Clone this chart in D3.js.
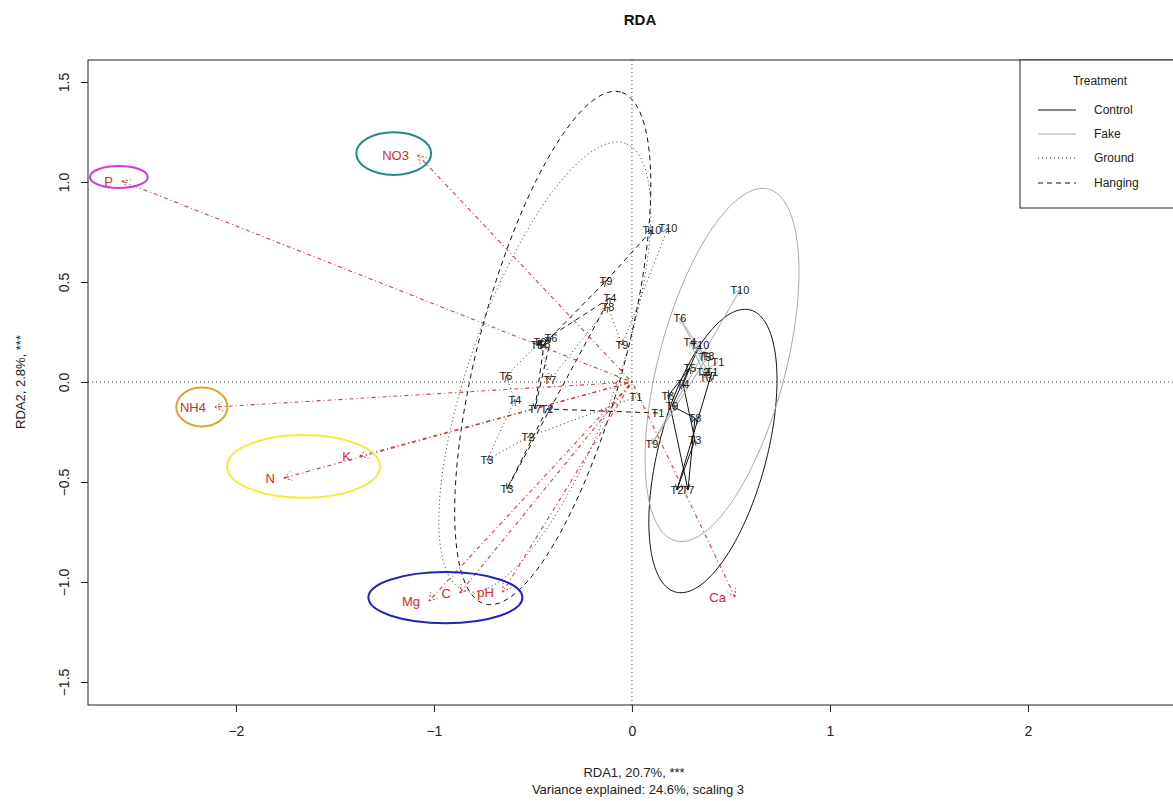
<!DOCTYPE html>
<html>
<head>
<meta charset="utf-8">
<script src="https://cdn.jsdelivr.net/npm/d3@7"></script>
<style>
  body { margin: 0; background: #fff; }
  svg { font-family: "Liberation Sans", Arial, sans-serif; }
</style>
</head>
<body>
<svg id="chart" width="1173" height="801"></svg>
<script>
// ---- site scores, one pair of arrays per treatment (sampling times T1..T10) ----
const timeLabels = ["T1","T2","T3","T4","T5","T6","T7","T8","T9","T10"];

const controlX = [0.404, 0.227, 0.318, 0.258, 0.293, 0.182, 0.283, 0.318, 0.202, 0.343];
const controlY = [0.050, -0.540, -0.290, -0.010, 0.070, -0.070, -0.540, -0.180, -0.120, 0.185];

const fakeX = [0.434, 0.359, 0.374, 0.293, 0.369, 0.242, 0.394, 0.384, 0.101, 0.545];
const fakeY = [0.100, 0.050, 0.020, 0.200, 0.125, 0.320, 0.030, 0.130, -0.310, 0.460];

const groundX = [0.020, -0.525, -0.732, -0.591, -0.636, -0.465, -0.414, -0.121, -0.050, 0.182];
const groundY = [-0.075, -0.275, -0.390, -0.090, 0.030, 0.200, 0.010, 0.375, 0.185, 0.770];

const hangingX = [0.131, -0.429, -0.631, -0.111, -0.480, -0.409, -0.490, -0.444, -0.131, 0.101];
const hangingY = [-0.155, -0.135, -0.535, 0.420, 0.185, 0.220, -0.135, 0.190, 0.505, 0.760];

// ---- dispersion ellipses per treatment: centre, semi-axes, rotation (degrees) ----
const treatments   = ["Control", "Fake", "Ground", "Hanging"];
const ellipseCx    = [0.409, 0.455, -0.440, -0.400];
const ellipseCy    = [-0.345, 0.085, 0.075, 0.170];
const ellipseMajor = [0.730, 0.910, 1.190, 1.325];
const ellipseMinor = [0.272, 0.320, 0.370, 0.370];
const ellipseAngle = [75, 75, 70, 75];

// ---- environmental biplot scores ----
const envNames = ["P", "NO3", "NH4", "K", "N", "Mg", "C", "pH", "Ca"];
const envX = [-2.576, -1.081, -2.106, -1.374, -1.758, -1.025, -0.869, -0.652, 0.520];
const envY = [1.005, 1.135, -0.125, -0.370, -0.480, -1.095, -1.055, -1.050, -1.075];

// ---- highlighted variable groups ----
const markGroups = ["P", "NO3", "NH4", "N-K", "Mg-C-pH"];
const markCx = [-2.591, -1.203, -2.172, -1.659, -0.942];
const markCy = [1.025, 1.142, -0.125, -0.422, -1.078];
const markRx = [0.146, 0.189, 0.129, 0.386, 0.389];
const markRy = [0.055, 0.107, 0.097, 0.157, 0.128];

// ---- axes ----
const xTicks = [-2, -1, 0, 1, 2];
const yTicks = [-1.5, -1.0, -0.5, 0.0, 0.5, 1.0, 1.5];

// ---------------------------------------------------------------
(function draw() {
const styles = {
  Control: { stroke: "#111", dash: null },
  Fake:    { stroke: "#a8a8a8", dash: null },
  Ground:  { stroke: "#333", dash: "1,3" },
  Hanging: { stroke: "#111", dash: "5,4" }
};
const markColors = ["#d23cd2", "#238a86", "#e2a128", "#eeee3c", "#2424b4"];
const envColor = "#d22b2b";

const svg = d3.select("#chart");
const pL = 88, pR = 1185, pT = 60, pB = 705;

const x = d3.scaleLinear().domain([-2.747, 2.793]).range([pL, pR]);
const y = d3.scaleLinear().domain([-1.615, 1.61]).range([pB, pT]);

svg.append("defs").append("clipPath").attr("id", "plotclip")
  .append("rect").attr("x", pL).attr("y", pT)
  .attr("width", pR - pL).attr("height", pB - pT);

const plot = svg.append("g").attr("clip-path", "url(#plotclip)");

// zero reference lines
plot.append("line").attr("x1", x(0)).attr("x2", x(0)).attr("y1", pT).attr("y2", pB)
  .attr("stroke", "#444").attr("stroke-dasharray", "1,3").attr("stroke-width", 1);
plot.append("line").attr("x1", pL).attr("x2", pR).attr("y1", y(0)).attr("y2", y(0))
  .attr("stroke", "#444").attr("stroke-dasharray", "1,3").attr("stroke-width", 1);

// treatment ellipses
function ellipsePoints(cx, cy, a, b, deg) {
  const th = deg * Math.PI / 180;
  return d3.range(0, 361, 2).map(t => {
    const r = t * Math.PI / 180;
    const dx = a * Math.cos(r), dy = b * Math.sin(r);
    return [cx + dx * Math.cos(th) - dy * Math.sin(th), cy + dx * Math.sin(th) + dy * Math.cos(th)];
  });
}
const lineGen = d3.line().x(d => x(d[0])).y(d => y(d[1]));

treatments.forEach((t, i) => {
  const st = styles[t];
  plot.append("path")
    .attr("d", lineGen(ellipsePoints(ellipseCx[i], ellipseCy[i], ellipseMajor[i], ellipseMinor[i], ellipseAngle[i])))
    .attr("fill", "none").attr("stroke", st.stroke).attr("stroke-width", 1)
    .attr("stroke-dasharray", st.dash);
});

// trajectories T1 -> T10 per treatment
const siteSets = {
  Control: [controlX, controlY],
  Fake: [fakeX, fakeY],
  Ground: [groundX, groundY],
  Hanging: [hangingX, hangingY]
};

function arrowHead(g, x0, y0, x1, y1, len, color, dash, width) {
  const ang = Math.atan2(y1 - y0, x1 - x0);
  const spread = Math.PI / 6;
  [ang + Math.PI - spread, ang + Math.PI + spread].forEach(a => {
    g.append("line").attr("x1", x1).attr("y1", y1)
      .attr("x2", x1 + len * Math.cos(a)).attr("y2", y1 + len * Math.sin(a))
      .attr("stroke", color).attr("stroke-width", width)
      .attr("stroke-dasharray", dash);
  });
}

treatments.forEach(t => {
  const [xs, ys] = siteSets[t];
  const st = styles[t];
  const pts = xs.map((v, i) => [v, ys[i]]);
  for (let i = 0; i < pts.length - 1; i++) {
    const x0 = x(pts[i][0]), y0 = y(pts[i][1]), x1 = x(pts[i + 1][0]), y1 = y(pts[i + 1][1]);
    plot.append("line").attr("x1", x0).attr("y1", y0).attr("x2", x1).attr("y2", y1)
      .attr("stroke", st.stroke).attr("stroke-width", 1).attr("stroke-dasharray", st.dash);
    arrowHead(plot, x0, y0, x1, y1, 6, st.stroke, null, 0.8);
  }
});

// environmental arrows
envNames.forEach((n, i) => {
  const x0 = x(0), y0 = y(0), x1 = x(envX[i]), y1 = y(envY[i]);
  plot.append("line").attr("x1", x0).attr("y1", y0).attr("x2", x1).attr("y2", y1)
    .attr("stroke", envColor).attr("stroke-width", 1.1).attr("stroke-dasharray", "1,3,4,3")
    .attr("opacity", 0.9);
  arrowHead(plot, x0, y0, x1, y1, 9, envColor, "2,2", 1);
  plot.append("text").attr("x", x1 - 9).attr("y", y1).attr("dy", "0.36em")
    .attr("text-anchor", "end").attr("font-size", 13).attr("fill", envColor).text(n);
});

// highlighted variable groups
markGroups.forEach((m, i) => {
  plot.append("ellipse")
    .attr("cx", x(markCx[i])).attr("cy", y(markCy[i]))
    .attr("rx", x(markRx[i]) - x(0)).attr("ry", y(0) - y(markRy[i]))
    .attr("fill", "none").attr("stroke", markColors[i]).attr("stroke-width", 2);
});

// site labels
treatments.forEach(t => {
  const [xs, ys] = siteSets[t];
  xs.forEach((v, i) => {
    plot.append("text").attr("x", x(v)).attr("y", y(ys[i])).attr("dy", "0.35em")
      .attr("text-anchor", "middle").attr("font-size", 11).attr("fill", "#1a1a1a")
      .text(timeLabels[i]);
  });
});

// frame
svg.append("rect").attr("x", pL).attr("y", pT).attr("width", pR - pL).attr("height", pB - pT)
  .attr("fill", "none").attr("stroke", "#222").attr("stroke-width", 1);

// x axis
const xAxis = svg.append("g").attr("transform", `translate(0,${pB})`)
  .call(d3.axisBottom(x).tickValues(xTicks).tickSize(7).tickPadding(14).tickFormat(d3.format("d")));
xAxis.select(".domain").remove();
xAxis.selectAll("text").attr("font-size", 14).attr("fill", "#222")
  .attr("font-family", "Liberation Sans, Arial, sans-serif");
xAxis.selectAll("line").attr("stroke", "#222");

// y axis (labels rotated, parallel to the axis)
const yAxis = svg.append("g").attr("transform", `translate(${pL},0)`)
  .call(d3.axisLeft(y).tickValues(yTicks).tickSize(7).tickFormat(d3.format(".1f")));
yAxis.select(".domain").remove();
yAxis.selectAll("line").attr("stroke", "#222");
yAxis.selectAll(".tick text")
  .attr("font-size", 14).attr("fill", "#222")
  .attr("font-family", "Liberation Sans, Arial, sans-serif")
  .attr("x", null).attr("dy", null)
  .attr("text-anchor", "middle")
  .attr("transform", "translate(-24,0) rotate(-90)")
  .attr("dy", "0.36em");

// titles
svg.append("text").attr("x", 640).attr("y", 20).attr("dy", "0.35em").attr("text-anchor", "middle")
  .attr("font-size", 15).attr("font-weight", "bold").attr("fill", "#111").text("RDA");
svg.append("text").attr("x", 634).attr("y", 772).attr("dy", "0.35em").attr("text-anchor", "middle")
  .attr("font-size", 13).attr("fill", "#222").text("RDA1, 20.7%, ***");
svg.append("text").attr("x", 638).attr("y", 789).attr("dy", "0.35em").attr("text-anchor", "middle")
  .attr("font-size", 13).attr("fill", "#222").text("Variance explained: 24.6%, scaling 3");
svg.append("text").attr("transform", "translate(20,382) rotate(-90)").attr("dy", "0.35em")
  .attr("text-anchor", "middle").attr("font-size", 13).attr("fill", "#222").text("RDA2, 2.8%, ***");

// legend
const lg = svg.append("g");
lg.append("rect").attr("x", 1020).attr("y", 60).attr("width", 175).attr("height", 148)
  .attr("fill", "#fff").attr("stroke", "#222");
lg.append("text").attr("x", 1100).attr("y", 81).attr("dy", "0.35em").attr("text-anchor", "middle")
  .attr("font-size", 12).attr("fill", "#222").text("Treatment");
const legY = [110, 134, 158, 183];
treatments.forEach((t, i) => {
  const st = styles[t];
  lg.append("line").attr("x1", 1038).attr("x2", 1076).attr("y1", legY[i]).attr("y2", legY[i])
    .attr("stroke", st.stroke).attr("stroke-width", 1).attr("stroke-dasharray", st.dash);
  lg.append("text").attr("x", 1094).attr("y", legY[i]).attr("dy", "0.35em")
    .attr("font-size", 12).attr("fill", "#222").text(t);
});
})();
</script>
</body>
</html>
